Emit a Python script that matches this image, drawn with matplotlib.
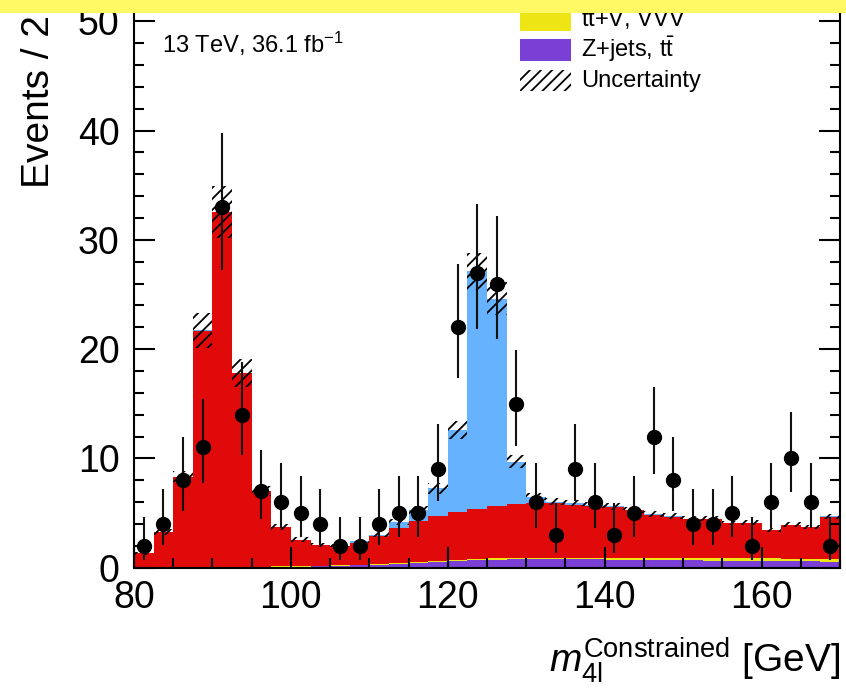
import numpy as np
import matplotlib
matplotlib.use("Agg")
import matplotlib.pyplot as plt
from matplotlib.patches import Rectangle

plt.rcParams['font.family'] = ['Liberation Sans', 'DejaVu Sans']
plt.rcParams['mathtext.fontset'] = 'custom'
plt.rcParams['mathtext.rm'] = 'Liberation Sans'
plt.rcParams['mathtext.it'] = 'Liberation Sans:italic'
plt.rcParams['mathtext.bf'] = 'Liberation Sans:bold'
plt.rcParams['mathtext.sf'] = 'Liberation Sans'
plt.rcParams['hatch.linewidth'] = 1.3

# ---------------- data ----------------
bin_edges = np.arange(80.0, 170.0 + 0.1, 2.5)
bin_centers = 0.5 * (bin_edges[:-1] + bin_edges[1:])

data_counts = [2, 4, 8, 11, 33, 14, 7, 6, 5, 4, 2, 2, 4, 5, 5, 9, 22, 27,
               26, 15, 6, 3, 9, 6, 3, 5, 12, 8, 4, 4, 5, 2, 6, 10, 6, 2]
data_err_dn = [1.29, 1.91, 2.77, 3.27, 5.73, 3.70, 2.58, 2.38, 2.16, 1.91, 1.29, 1.29,
               1.91, 2.16, 2.16, 2.94, 4.67, 5.18, 5.08, 3.84, 2.38, 1.63, 2.94, 2.38,
               1.63, 2.16, 3.42, 2.77, 1.91, 1.91, 2.16, 1.29, 2.38, 3.11, 2.38, 1.29]
data_err_up = [2.64, 3.16, 3.95, 4.42, 6.81, 4.83, 3.77, 3.58, 3.38, 3.16, 2.64, 2.64,
               3.16, 3.38, 3.38, 4.11, 5.76, 6.26, 6.17, 4.96, 3.58, 2.92, 4.11, 3.58,
               2.92, 3.38, 4.56, 3.95, 3.16, 3.16, 3.38, 2.64, 3.58, 4.27, 3.58, 2.64]

zjets_tt = [0.02, 0.02, 0.03, 0.03, 0.04, 0.05, 0.06, 0.08, 0.10, 0.13, 0.17, 0.22,
            0.28, 0.36, 0.45, 0.55, 0.64, 0.71, 0.75, 0.77, 0.78, 0.78, 0.77, 0.76,
            0.75, 0.73, 0.71, 0.69, 0.67, 0.65, 0.63, 0.62, 0.60, 0.58, 0.57, 0.56]
ttv_vvv = [0.01, 0.01, 0.02, 0.02, 0.02, 0.02, 0.02, 0.03, 0.03, 0.04, 0.04, 0.05,
           0.05, 0.06, 0.07, 0.08, 0.09, 0.10, 0.11, 0.12, 0.13, 0.14, 0.15, 0.16,
           0.17, 0.18, 0.19, 0.20, 0.21, 0.22, 0.23, 0.24, 0.25, 0.26, 0.27, 0.28]
zz_bkg = [1.27, 3.22, 8.25, 21.65, 32.44, 17.73, 6.92, 3.59, 2.42, 1.88, 1.74, 2.03,
          2.57, 3.20, 3.71, 4.11, 4.37, 4.54, 4.79, 4.95, 4.99, 4.98, 4.86, 4.75,
          4.62, 4.34, 3.96, 3.78, 3.57, 3.58, 3.20, 3.22, 2.60, 3.09, 2.84, 3.84]
higgs = [0.01, 0.01, 0.02, 0.02, 0.03, 0.02, 0.02, 0.02, 0.03, 0.04, 0.06, 0.10,
         0.12, 0.55, 1.07, 2.53, 7.50, 21.75, 18.95, 3.86, 0.60, 0.15, 0.12, 0.08,
         0.06, 0.05, 0.04, 0.04, 0.03, 0.03, 0.03, 0.02, 0.02, 0.02, 0.02, 0.02]
syst_unc = [0.15, 0.25, 0.50, 1.60, 2.40, 1.30, 0.50, 0.30, 0.20, 0.17, 0.16, 0.18,
            0.22, 0.28, 0.35, 0.50, 0.80, 1.70, 1.50, 0.60, 0.35, 0.30, 0.30, 0.30,
            0.30, 0.28, 0.26, 0.25, 0.24, 0.24, 0.22, 0.22, 0.20, 0.21, 0.20, 0.25]

x_major_ticks = [80, 100, 120, 140, 160]
y_major_ticks = [0, 10, 20, 30, 40, 50]

c_purple = '#7A3FD4'
c_yellow = '#EEE514'
c_red = '#E10A0A'
c_blue = '#66B2FF'
c_band = '#FFF965'

# ---------------- figure ----------------
W, H = 846, 691
fig = plt.figure(figsize=(W / 100, H / 100), dpi=100)

def fx(px):
    return px / W

def fy(py):
    return 1 - py / H

ax_left, ax_right, ax_bottom, ax_top = 134, 840, 567.7, 0.0
ax = fig.add_axes([fx(ax_left), fy(ax_bottom), fx(ax_right - ax_left), (ax_bottom - ax_top) / H])
ymax = (ax_bottom - ax_top) / 10.93
ax.set_xlim(80, 170)
ax.set_ylim(0, ymax)

# stacked histograms
layers = [(zjets_tt, c_purple), (ttv_vvv, c_yellow), (zz_bkg, c_red), (higgs, c_blue)]
base = np.zeros(len(bin_centers))
for vals, col in layers:
    top = base + np.asarray(vals)
    ax.stairs(top, bin_edges, baseline=base.copy(), fill=True, facecolor=col,
              edgecolor='none', linewidth=0, zorder=1)
    base = top
total = base

# uncertainty band
unc = np.asarray(syst_unc)
ax.stairs(total + unc, bin_edges, baseline=total - unc, fill=True, facecolor='none',
          edgecolor='black', hatch='///', linewidth=0, zorder=1.5)

# data
ax.errorbar(bin_centers, data_counts, yerr=[data_err_dn, data_err_up], fmt='o',
            color='black', ecolor='#111111', elinewidth=1.5, markersize=10,
            capsize=0, zorder=3)

# axes style
for s in ax.spines.values():
    s.set_linewidth(1.5)
ax.set_xticks(x_major_ticks)
ax.set_xticks(np.arange(80, 171, 5), minor=True)
ax.set_yticks(y_major_ticks)
ax.set_yticks(np.arange(0, 52, 2), minor=True)
ax.tick_params(which='both', direction='in', top=False, right=True, width=1.5,
               labelsize=27)
ax.tick_params(which='major', length=15)
ax.tick_params(which='minor', length=7.5)
ax.tick_params(axis='x', which='major', pad=8.5)
ax.tick_params(axis='y', which='major', pad=10.5)

# axis titles (cropped in the reference)
fig.text(fx(49), fy(188), 'Events / 2.5 GeV', rotation=90, rotation_mode='anchor',
         ha='left', va='baseline', fontsize=28)
fig.text(fx(840), fy(672), r'$m_{\mathrm{4l}}^{\mathrm{Constrained}}$ [GeV]',
         ha='right', va='baseline', fontsize=28)

# energy / luminosity label
fig.text(fx(162), fy(53), r'13 TeV, 36.1 fb$^{-1}$', ha='left', va='baseline',
         fontsize=17)

# legend (visible rows)
sw_x0, sw_x1 = 520, 571
legend_rows = [
    (8.5, 30.5, 26.5, dict(facecolor=c_yellow, edgecolor='none'), r't$\bar{\mathrm{t}}$+V, VVV'),
    (39, 61, 56.7, dict(facecolor=c_purple, edgecolor='none'), r'Z+jets, t$\bar{\mathrm{t}}$'),
    (70, 90.7, 87.3, dict(facecolor='none', edgecolor='black', hatch='///', linewidth=0), 'Uncertainty'),
]
for top_px, bot_px, base_px, style, label in legend_rows:
    r = Rectangle((fx(sw_x0), fy(bot_px)), fx(sw_x1 - sw_x0), (bot_px - top_px) / H,
                  transform=fig.transFigure, **style)
    fig.add_artist(r)
    fig.text(fx(581), fy(base_px), label, ha='left', va='baseline', fontsize=17)

# yellow strip covering the top of the image
fig.add_artist(Rectangle((0, fy(12.7)), 1, 12.7 / H, transform=fig.transFigure,
                         facecolor=c_band, edgecolor='none', zorder=100))

fig.savefig('out.png', dpi=100)
